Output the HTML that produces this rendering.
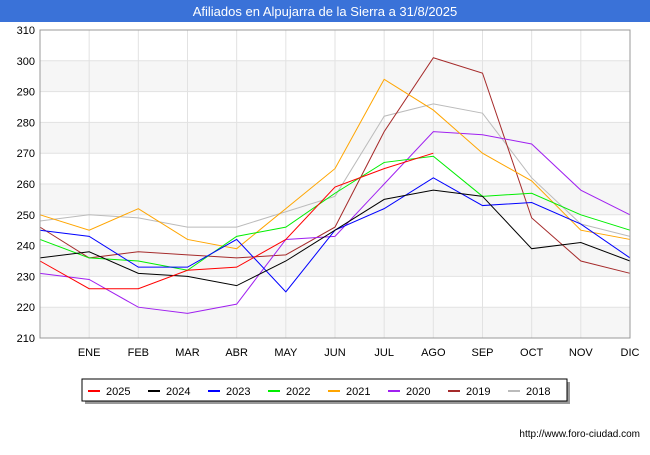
<!DOCTYPE html>
<html><head><meta charset="utf-8"><style>
body{margin:0;background:#fff;font-family:"Liberation Sans",sans-serif;}
</style></head><body>
<svg id="c" width="650" height="450" xmlns="http://www.w3.org/2000/svg">
<rect x="0" y="0" width="650" height="22" fill="#3a72d8"/>
<text x="325" y="16" text-anchor="middle" font-size="13" fill="#fff">Afiliados en Alpujarra de la Sierra a 31/8/2025</text>
<g id="grid"></g><g id="series"></g><g id="axes"></g>
<rect x="85" y="382" width="485" height="22" fill="#999"/>
<rect x="82" y="379" width="485" height="22" fill="#fff" stroke="#000"/>
<g id="legend"></g>
<text x="640" y="437" text-anchor="end" font-size="10" fill="#000">http://www.foro-ciudad.com</text>
</svg>
<script>
const months=["","ENE","FEB","MAR","ABR","MAY","JUN","JUL","AGO","SEP","OCT","NOV","DIC"];
const yTicks=[210,220,230,240,250,260,270,280,290,300,310];
const seriesNames=["2025","2024","2023","2022","2021","2020","2019","2018"];
const seriesColors=["#ff0000","#000000","#0000ff","#00ee00","#ffa500","#a020f0","#a52a2a","#bbbbbb"];
const s2025=[235,226,226,232,233,242,259,265,270];
const s2024=[236,238,231,230,227,235,245,255,258,256,239,241,235];
const s2023=[245,243,233,233,242,225,245,252,262,253,254,247,236];
const s2022=[242,236,235,232,243,246,257,267,269,256,257,250,245];
const s2021=[250,245,252,242,239,252,265,294,284,270,261,245,242];
const s2020=[231,229,220,218,221,242,243,260,277,276,273,258,250];
const s2019=[246,236,238,237,236,237,246,277,301,296,249,235,231];
const s2018=[248,250,249,246,246,251,256,282,286,283,262,247,243];
const allSeries=[s2025,s2024,s2023,s2022,s2021,s2020,s2019,s2018];
const X0=40,X1=630,Y0=338,Y1=30;
const x=i=>X0+i*(X1-X0)/12;
const y=v=>Y0-(v-210)*(Y0-Y1)/100;
const NS="http://www.w3.org/2000/svg";
function mk(t,a,p){const e=document.createElementNS(NS,t);for(const k in a)e.setAttribute(k,a[k]);p.appendChild(e);return e;}
const g=document.getElementById('grid'),ax=document.getElementById('axes'),sg=document.getElementById('series'),lg=document.getElementById('legend');
for(let i=0;i<yTicks.length-1;i++){
 if(i%2===0){const r=mk('rect',{x:X0,y:y(yTicks[i+1]),width:X1-X0,height:y(yTicks[i])-y(yTicks[i+1]),fill:'#f6f6f6'},g);
 
 }
}
yTicks.forEach(v=>{
 const l=mk('line',{x1:X0,x2:X1,y1:y(v),y2:y(v),stroke:'#e2e2e2'},g);
 
 
 const t=mk('text',{x:X0-5,y:y(v)+4,'text-anchor':'end','font-size':'11',fill:'#000'},ax);t.textContent=v;
 
 
});
months.forEach((m,i)=>{
 if(i>0){const l=mk('line',{x1:x(i),x2:x(i),y1:Y1,y2:Y0,stroke:'#e2e2e2'},g);
 
 }
 const t=mk('text',{x:x(i),y:356,'text-anchor':'middle','font-size':'11',fill:'#000'},ax);t.textContent=m;
 
 
});
const fr=mk('rect',{x:X0,y:Y1,width:X1-X0,height:Y0-Y1,fill:'none',stroke:'#999'},ax);


for(let k=allSeries.length-1;k>=0;k--){
 const pts=allSeries[k].map((v,i)=>x(i)+','+y(v)).join(' ');
 const p=mk('polyline',{points:pts,fill:'none',stroke:seriesColors[k],'stroke-width':'1'},sg);
 
 
}
seriesNames.forEach((n,k)=>{
 const lx=88+k*60;
 const l=mk('line',{x1:lx,x2:lx+12,y1:391,y2:391,stroke:seriesColors[k],'stroke-width':'2'},lg);
 
 
 const t=mk('text',{x:lx+18,y:395,'font-size':'11',fill:'#000'},lg);t.textContent=n;
 
 
});
</script>
</body></html>
